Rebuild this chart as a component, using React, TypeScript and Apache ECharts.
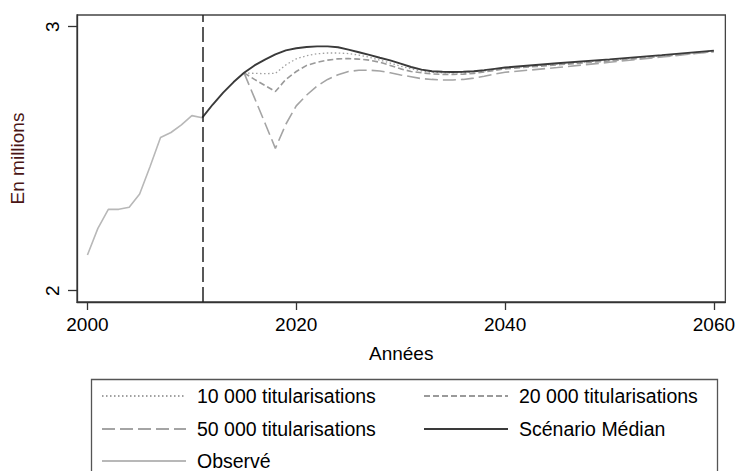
import React, { useEffect, useRef } from "react";
import * as echarts from "echarts";

const observedYears = [2000, 2001, 2002, 2003, 2004, 2005, 2006, 2007, 2008, 2009, 2010, 2011];
const observedValues = [2.135, 2.236, 2.308, 2.308, 2.316, 2.366, 2.47, 2.58, 2.599, 2.628, 2.663, 2.655];

const medianYears = [2011, 2012, 2013, 2014, 2015, 2016, 2017, 2018, 2019, 2020, 2021, 2022, 2023, 2024, 2025, 2026, 2027, 2028, 2029, 2030, 2031, 2032, 2033, 2034, 2035, 2036, 2037, 2038, 2039, 2040, 2045, 2050, 2055, 2060];
const medianValues = [2.655, 2.705, 2.75, 2.79, 2.825, 2.853, 2.875, 2.895, 2.91, 2.918, 2.923, 2.925, 2.925, 2.922, 2.913, 2.903, 2.893, 2.882, 2.872, 2.86, 2.847, 2.837, 2.831, 2.829, 2.828, 2.829, 2.831, 2.835, 2.84, 2.845, 2.861, 2.876, 2.892, 2.909];

const scenarioYears = [2015, 2016, 2017, 2018, 2019, 2020, 2021, 2022, 2023, 2024, 2025, 2026, 2027, 2028, 2029, 2030, 2031, 2032, 2033, 2034, 2035, 2036, 2037, 2038, 2039, 2040, 2045, 2050, 2055, 2060];
const s10000 = [2.825, 2.823, 2.822, 2.823, 2.855, 2.878, 2.89, 2.897, 2.9, 2.9, 2.898, 2.892, 2.884, 2.873, 2.862, 2.85, 2.84, 2.832, 2.827, 2.825, 2.825, 2.826, 2.829, 2.832, 2.837, 2.843, 2.858, 2.873, 2.89, 2.908];
const s20000 = [2.825, 2.8, 2.777, 2.754, 2.8, 2.83, 2.853, 2.865, 2.873, 2.878, 2.879, 2.877, 2.873, 2.865, 2.853, 2.84, 2.83, 2.825, 2.821, 2.819, 2.819, 2.82, 2.823, 2.828, 2.834, 2.84, 2.855, 2.87, 2.887, 2.906];
const s50000 = [2.825, 2.73, 2.635, 2.539, 2.63, 2.7, 2.741, 2.775, 2.8, 2.818, 2.83, 2.835, 2.835, 2.832, 2.825, 2.817, 2.81, 2.803, 2.8, 2.798, 2.798, 2.8, 2.805, 2.812, 2.82, 2.827, 2.845, 2.865, 2.885, 2.905];

const xTicks = [2000, 2020, 2040, 2060];
const yTicks = [2, 3];
const separationYear = 2011;

const seriesNames = {
  s10: "10 000 titularisations",
  s20: "20 000 titularisations",
  s50: "50 000 titularisations",
  med: "Scénario Médian",
  obs: "Observé",
};

const zip = (xs: number[], ys: number[]) => xs.map((x, i) => [x, ys[i]]);

const FONT = "'Liberation Sans', Arial, sans-serif";

export default function App() {
  const ref = useRef<HTMLDivElement>(null);
  useEffect(() => {
    if (!ref.current) return;
    const chart = echarts.init(ref.current, undefined, { renderer: "svg" });
    const legendText = { fontSize: 19.5, color: "#000", fontFamily: FONT, lineHeight: 20, padding: [0, 0, 0, 6] };
    const legendItem = (name: string, left: number, top: number) => ({
      data: [name],
      orient: "horizontal",
      left,
      top,
      itemWidth: 84,
      itemHeight: 18,
      textStyle: legendText,
      itemStyle: { opacity: 0 },
      selectedMode: false,
    });
    chart.setOption({
      animation: false,
      backgroundColor: "#fff",
      textStyle: { fontFamily: FONT },
      grid: {
        left: 76,
        top: 15,
        width: 652,
        height: 287,
        show: true,
        borderColor: "#444",
        borderWidth: 1.3,
        backgroundColor: "transparent",
      },
      xAxis: {
        type: "value",
        min: 1999,
        max: 2061.1,
        name: "Années",
        nameLocation: "middle",
        nameGap: 42,
        nameTextStyle: { fontSize: 19, color: "#000", fontFamily: FONT },
        axisLine: { show: true, onZero: false, lineStyle: { color: "#333", width: 1.3 } },
        axisTick: { show: true, length: 8, customValues: xTicks, lineStyle: { color: "#333", width: 1.3 } },
        axisLabel: {
          customValues: xTicks,
          fontSize: 19,
          color: "#000",
          margin: 13,
          fontFamily: FONT,
          formatter: (v: number) => String(Math.round(v)),
        },
        splitLine: { show: false },
      },
      yAxis: {
        type: "value",
        min: 1.957,
        max: 3.044,
        name: "En millions",
        nameLocation: "middle",
        nameGap: 50,
        nameTextStyle: { fontSize: 19, color: "#4a1515", fontFamily: FONT },
        axisLine: { show: true, onZero: false, lineStyle: { color: "#333", width: 1.3 } },
        axisTick: { show: true, length: 9, customValues: yTicks, lineStyle: { color: "#333", width: 1.3 } },
        axisLabel: {
          customValues: yTicks,
          rotate: 90,
          fontSize: 19,
          color: "#000",
          margin: 15,
          fontFamily: FONT,
          formatter: (v: number) => String(Math.round(v)),
        },
        splitLine: { show: false },
      },
      legend: [
        legendItem(seriesNames.s10, 96, 381),
        legendItem(seriesNames.s20, 418, 381),
        legendItem(seriesNames.s50, 96, 414),
        legendItem(seriesNames.med, 418, 414),
        legendItem(seriesNames.obs, 96, 446),
      ],
      graphic: [
        {
          type: "rect",
          left: 89,
          top: 377,
          shape: { width: 626, height: 130 },
          style: { fill: "none", stroke: "#555", lineWidth: 1.3 },
          silent: true,
        },
      ],
      series: [
        {
          name: seriesNames.obs,
          type: "line",
          data: zip(observedYears, observedValues),
          symbol: "none",
          lineStyle: { color: "#b8b8b8", width: 1.6, type: "solid" },
          itemStyle: { color: "#b8b8b8" },
          z: 2,
          markLine: {
            silent: true,
            symbol: "none",
            label: { show: false },
            lineStyle: { color: "#222", width: 1.5, type: [15, 5] },
            data: [{ xAxis: separationYear }],
          },
        },
        {
          name: seriesNames.s10,
          type: "line",
          data: zip(scenarioYears, s10000),
          symbol: "none",
          lineStyle: { color: "#a0a0a0", width: 1.3, type: [1.5, 2.5] },
          itemStyle: { color: "#a0a0a0" },
          z: 3,
        },
        {
          name: seriesNames.s20,
          type: "line",
          data: zip(scenarioYears, s20000),
          symbol: "none",
          lineStyle: { color: "#9a9a9a", width: 1.6, type: [6, 3] },
          itemStyle: { color: "#9a9a9a" },
          z: 3,
        },
        {
          name: seriesNames.s50,
          type: "line",
          data: zip(scenarioYears, s50000),
          symbol: "none",
          lineStyle: { color: "#a4a4a4", width: 1.6, type: [13, 5] },
          itemStyle: { color: "#a4a4a4" },
          z: 3,
        },
        {
          name: seriesNames.med,
          type: "line",
          data: zip(medianYears, medianValues),
          symbol: "none",
          lineStyle: { color: "#3a3a3a", width: 1.9, type: "solid" },
          itemStyle: { color: "#3a3a3a" },
          z: 4,
        },
      ],
    });
    return () => chart.dispose();
  }, []);
  return (
    <div
      ref={ref}
      style={{ position: "fixed", left: 0, top: 0, width: 738, height: 471, background: "#fff" }}
    />
  );
}
